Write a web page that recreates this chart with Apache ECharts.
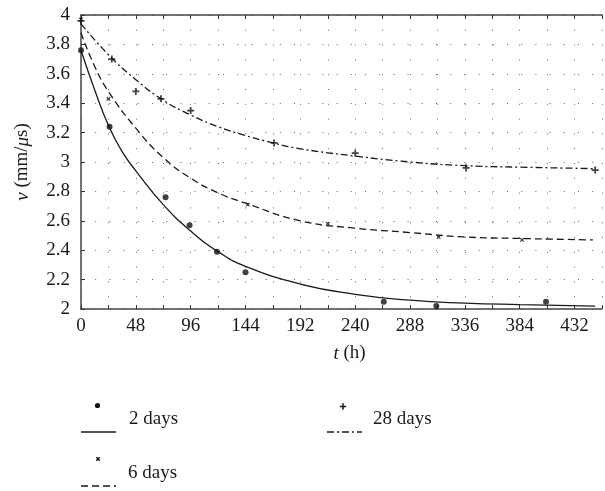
<!DOCTYPE html>
<html>
<head>
<meta charset="utf-8">
<script src="https://cdn.jsdelivr.net/npm/echarts@6/dist/echarts.min.js"></script>
<style>
  html, body { margin: 0; padding: 0; background: #fff; }
  #chart { width: 605px; height: 491px; }
</style>
</head>
<body>
<div id="chart"></div>
<script>
// Measured pulse velocity v (mm/µs) against time t (h)
const t2 = [0, 25, 74, 95, 119, 144, 265, 311, 407];
const v2 = [3.76, 3.24, 2.76, 2.57, 2.39, 2.25, 2.05, 2.02, 2.05];

const t6 = [0, 24, 146, 216, 313, 386];
const v6 = [3.97, 3.43, 2.71, 2.58, 2.49, 2.47];

const t28 = [0, 27, 48, 70, 96, 169, 240, 337, 450];
const v28 = [3.96, 3.70, 3.48, 3.43, 3.35, 3.13, 3.06, 2.96, 2.945];

// Fitted decay curves
const fitT2 = [0, 12, 24, 36, 48, 72, 96, 120, 144, 192, 240, 288, 336, 384, 450];
const fitV2 = [3.76, 3.49, 3.25, 3.07, 2.94, 2.71, 2.53, 2.39, 2.29, 2.17, 2.10, 2.06, 2.04, 2.03, 2.02];

const fitT6 = [0, 12, 24, 48, 72, 96, 120, 144, 192, 240, 288, 336, 384, 448];
const fitV6 = [3.88, 3.65, 3.48, 3.23, 3.03, 2.89, 2.79, 2.72, 2.60, 2.55, 2.52, 2.49, 2.48, 2.47];

const fitT28 = [0, 24, 48, 72, 96, 120, 144, 168, 192, 240, 288, 336, 384, 450];
const fitV28 = [3.94, 3.73, 3.56, 3.42, 3.32, 3.24, 3.18, 3.13, 3.09, 3.04, 3.00, 2.975, 2.965, 2.955];

const seriesNames = ['2 days', '6 days', '28 days'];

const pairs = (xs, ys) => xs.map((x, i) => [x, ys[i]]);

const FONT = 'Liberation Serif';
const INK = '#1a1a1a';
const PLUS = 'path://M3,0H5V3H8V5H5V8H3V5H0V3H3Z';
const DASH = [7, 4];
const DASHDOT = [7, 3, 2, 3];

// plus-shaped polygon around (cx, cy) for the key glyphs
function plusPoints(cx, cy, arm, half, rot) {
  const base = [[-half, -arm], [half, -arm], [half, -half], [arm, -half], [arm, half], [half, half],
                [half, arm], [-half, arm], [-half, half], [-arm, half], [-arm, -half], [-half, -half]];
  const c = Math.cos(rot), s = Math.sin(rot);
  return base.map(([x, y]) => [cx + x * c - y * s, cy + x * s + y * c]);
}

const chart = echarts.init(document.getElementById('chart'), null, { renderer: 'canvas' });

const xCommon = { type: 'value', min: 0, max: 456, interval: 24 };

const keyFont = '19px "Liberation Serif"';

const fitLine = (name, xs, ys, type) => ({
  name: name + ' fit', type: 'line', data: pairs(xs, ys),
  smooth: 0.5, showSymbol: false, z: 3,
  lineStyle: { color: INK, width: 1.3, type: type }
});

chart.setOption({
  animation: false,
  backgroundColor: '#fff',
  grid: { left: 81, top: 15, right: -2, bottom: 182, containLabel: false },
  xAxis: [
    Object.assign({}, xCommon, {
      position: 'bottom',
      name: '{i|t} (h)',
      nameLocation: 'middle',
      nameGap: 35,
      nameTextStyle: {
        fontFamily: FONT, fontSize: 19, color: INK, padding: [0, 0, 0, 16],
        rich: { i: { fontFamily: FONT, fontSize: 19, fontStyle: 'italic', color: INK } }
      },
      axisLine: { show: true, lineStyle: { color: '#444', width: 1.5 } },
      axisTick: { show: true, inside: true, length: 4, lineStyle: { color: '#333' } },
      axisLabel: {
        fontFamily: FONT, fontSize: 19, color: INK, margin: 8,
        formatter: v => (v % 48 === 0 ? String(v) : '')
      },
      splitLine: { show: true, lineStyle: { color: '#666', width: 1, type: [1, 13.8] } }
    }),
    Object.assign({}, xCommon, {
      position: 'top',
      axisLine: { show: true, lineStyle: { color: '#444', width: 1.5 } },
      axisTick: { show: true, inside: true, length: 4, lineStyle: { color: '#333' } },
      axisLabel: { show: false },
      splitLine: { show: false }
    })
  ],
  yAxis: {
    type: 'value', min: 2, max: 4, interval: 0.2,
    name: '{i|v} (mm/{i|μ}s)',
    nameLocation: 'middle',
    nameGap: 49,
    nameTextStyle: {
      fontFamily: FONT, fontSize: 19, color: INK,
      rich: { i: { fontFamily: FONT, fontSize: 19, fontStyle: 'italic', color: INK } }
    },
    axisLine: { show: true, lineStyle: { color: '#444', width: 1.5 } },
    axisTick: { show: true, inside: true, length: 4, lineStyle: { color: '#333' } },
    axisLabel: {
      fontFamily: FONT, fontSize: 19, color: INK, margin: 11,
      formatter: v => String(parseFloat(v.toFixed(1)))
    },
    splitLine: { show: true, lineStyle: { color: '#666', width: 1, type: [1, 13.2] } }
  },
  series: [
    fitLine(seriesNames[0], fitT2, fitV2, 'solid'),
    fitLine(seriesNames[1], fitT6, fitV6, DASH),
    fitLine(seriesNames[2], fitT28, fitV28, DASHDOT),
    {
      name: seriesNames[0], type: 'scatter', data: pairs(t2, v2),
      symbol: 'circle', symbolSize: 6, z: 4,
      itemStyle: { color: '#111' }
    },
    {
      name: seriesNames[1], type: 'scatter', data: pairs(t6, v6),
      symbol: PLUS, symbolSize: 5, symbolRotate: 45, z: 4,
      itemStyle: { color: '#111' }
    },
    {
      name: seriesNames[2], type: 'scatter', data: pairs(t28, v28),
      symbol: PLUS, symbolSize: 7, z: 4,
      itemStyle: { color: '#111' }
    }
  ],
  graphic: [
    // 2 days key
    { type: 'circle', shape: { cx: 97.5, cy: 405.5, r: 2.6 }, style: { fill: '#111' } },
    { type: 'line', shape: { x1: 81, y1: 432, x2: 116, y2: 432 }, style: { stroke: INK, lineWidth: 1.3 } },
    { type: 'text', x: 129, y: 419, style: { text: seriesNames[0], font: keyFont, fill: INK, verticalAlign: 'middle' } },
    // 28 days key
    { type: 'polygon', shape: { points: plusPoints(343, 406.5, 3.2, 0.75, 0) }, style: { fill: '#111' } },
    { type: 'line', shape: { x1: 327, y1: 432, x2: 362, y2: 432 }, style: { stroke: INK, lineWidth: 1.3, lineDash: DASHDOT } },
    { type: 'text', x: 373, y: 419, style: { text: seriesNames[2], font: keyFont, fill: INK, verticalAlign: 'middle' } },
    // 6 days key
    { type: 'polygon', shape: { points: plusPoints(98, 459, 2.4, 0.7, Math.PI / 4) }, style: { fill: '#111' } },
    { type: 'line', shape: { x1: 81, y1: 486, x2: 116, y2: 486 }, style: { stroke: INK, lineWidth: 1.3, lineDash: DASH } },
    { type: 'text', x: 128, y: 473, style: { text: seriesNames[1], font: keyFont, fill: INK, verticalAlign: 'middle' } }
  ]
});
</script>
</body>
</html>
